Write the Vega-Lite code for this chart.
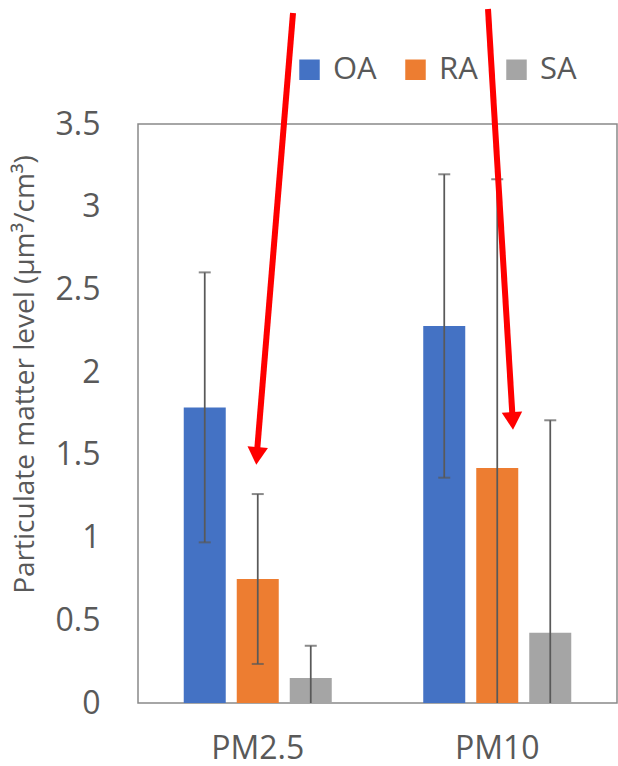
{
  "$schema": "https://vega.github.io/schema/vega-lite/v6.json",
  "width": 479,
  "height": 579,
  "autosize": {"type": "none"},
  "padding": {"left": 138, "top": 124, "right": 1, "bottom": 63},
  "background": "white",
  "config": {
    "font": "Open Sans",
    "view": {"stroke": "#898989", "strokeWidth": 1.5},
    "axis": {"domain": false, "ticks": false, "grid": false, "labelColor": "#595959", "titleColor": "#595959", "labelFont": "Open Sans", "titleFont": "Open Sans", "titleFontWeight": "normal"}
  },
  "datasets": {
    "bars": [
      {"pm": "PM2.5", "type": "OA", "mean": 1.787, "lo": 0.971, "hi": 2.603},
      {"pm": "PM2.5", "type": "RA", "mean": 0.75, "lo": 0.236, "hi": 1.263},
      {"pm": "PM2.5", "type": "SA", "mean": 0.151, "lo": 0, "hi": 0.346},
      {"pm": "PM10", "type": "OA", "mean": 2.279, "lo": 1.362, "hi": 3.196},
      {"pm": "PM10", "type": "RA", "mean": 1.42, "lo": 0, "hi": 3.166},
      {"pm": "PM10", "type": "SA", "mean": 0.425, "lo": 0, "hi": 1.709}
    ],
    "arrowLines": [
      {"arrow": 1, "order": 1, "pos": 0.6472, "y": 4.171},
      {"arrow": 1, "order": 2, "pos": 0.4969, "y": 1.517},
      {"arrow": 2, "order": 1, "pos": 1.4614, "y": 4.195},
      {"arrow": 2, "order": 2, "pos": 1.5637, "y": 1.729}
    ],
    "arrowHeads": [
      {"arrow": 1, "pos": 0.4969, "y": 1.493},
      {"arrow": 2, "pos": 1.5637, "y": 1.705}
    ]
  },
  "resolve": {"scale": {"x": "independent"}},
  "layer": [
    {
      "data": {"name": "bars"},
      "encoding": {
        "x": {"field": "pm", "type": "nominal", "sort": null, "scale": {"paddingInner": 0, "paddingOuter": 0},
              "axis": {"title": null, "labelAngle": 0, "labelFontSize": 32, "labelPadding": 30}},
        "xOffset": {"field": "type", "type": "nominal", "scale": {"paddingInner": 0.2075, "paddingOuter": 0.863}}
      },
      "layer": [
        {
          "mark": {"type": "bar"},
          "encoding": {
            "y": {"field": "mean", "type": "quantitative", "scale": {"domain": [0, 3.5], "nice": false, "zero": true},
                  "title": "Particulate matter level (µm³/cm³)",
                  "axis": {"values": [0, 0.5, 1, 1.5, 2, 2.5, 3, 3.5], "format": "~g", "labelFontSize": 32, "labelPadding": 38,
                           "titleFontSize": 28, "titleAngle": -90, "titleX": -105, "titleY": 250, "titleAlign": "center", "titleBaseline": "alphabetic"}},
            "color": {"field": "type", "type": "nominal",
                      "scale": {"domain": ["OA", "RA", "SA"], "range": ["#4472C4", "#ED7D31", "#A5A5A5"]},
                      "legend": {"title": null, "orient": "none", "direction": "horizontal", "legendX": 156, "legendY": -70,
                                 "symbolType": "square", "symbolSize": 420, "symbolStrokeWidth": 0, "symbolOpacity": 1,
                                 "labelFontSize": 31, "labelColor": "#595959", "labelFont": "Open Sans", "labelOffset": 8, "columnPadding": 23, "padding": 0}}
          }
        },
        {
          "mark": {"type": "rule", "color": "#595959", "strokeWidth": 1.75},
          "encoding": {
            "y": {"field": "lo", "type": "quantitative", "scale": {"domain": [0, 3.5], "nice": false}, "title": "Particulate matter level (µm³/cm³)"},
            "y2": {"field": "hi"}
          }
        },
        {
          "mark": {"type": "tick", "color": "#595959", "size": 12, "thickness": 2, "orient": "horizontal"},
          "encoding": {
            "y": {"field": "hi", "type": "quantitative", "scale": {"domain": [0, 3.5], "nice": false}, "title": "Particulate matter level (µm³/cm³)"}
          }
        },
        {
          "transform": [{"filter": "datum.lo > 0"}],
          "mark": {"type": "tick", "color": "#595959", "size": 12, "thickness": 2, "orient": "horizontal"},
          "encoding": {
            "y": {"field": "lo", "type": "quantitative", "scale": {"domain": [0, 3.5], "nice": false}, "title": "Particulate matter level (µm³/cm³)"}
          }
        }
      ]
    },
    {
      "encoding": {
        "x": {"field": "pos", "type": "quantitative", "scale": {"domain": [0, 2], "nice": false, "zero": false}, "axis": null},
        "y": {"field": "y", "type": "quantitative", "scale": {"domain": [0, 3.5], "nice": false}, "title": "Particulate matter level (µm³/cm³)"}
      },
      "layer": [
        {
          "data": {"name": "arrowLines"},
          "mark": {"type": "line", "color": "#FF0000", "strokeWidth": 6, "clip": false},
          "encoding": {
            "detail": {"field": "arrow", "type": "nominal"},
            "order": {"field": "order", "type": "quantitative"}
          }
        },
        {
          "data": {"name": "arrowHeads"},
          "transform": [{"filter": "datum.arrow == 1"}],
          "mark": {"type": "point", "shape": "triangle-down", "filled": true, "color": "#FF0000", "opacity": 1, "size": 420, "angle": 4.7, "clip": false}
        },
        {
          "data": {"name": "arrowHeads"},
          "transform": [{"filter": "datum.arrow == 2"}],
          "mark": {"type": "point", "shape": "triangle-down", "filled": true, "color": "#FF0000", "opacity": 1, "size": 420, "angle": 356.6, "clip": false}
        }
      ]
    }
  ]
}
